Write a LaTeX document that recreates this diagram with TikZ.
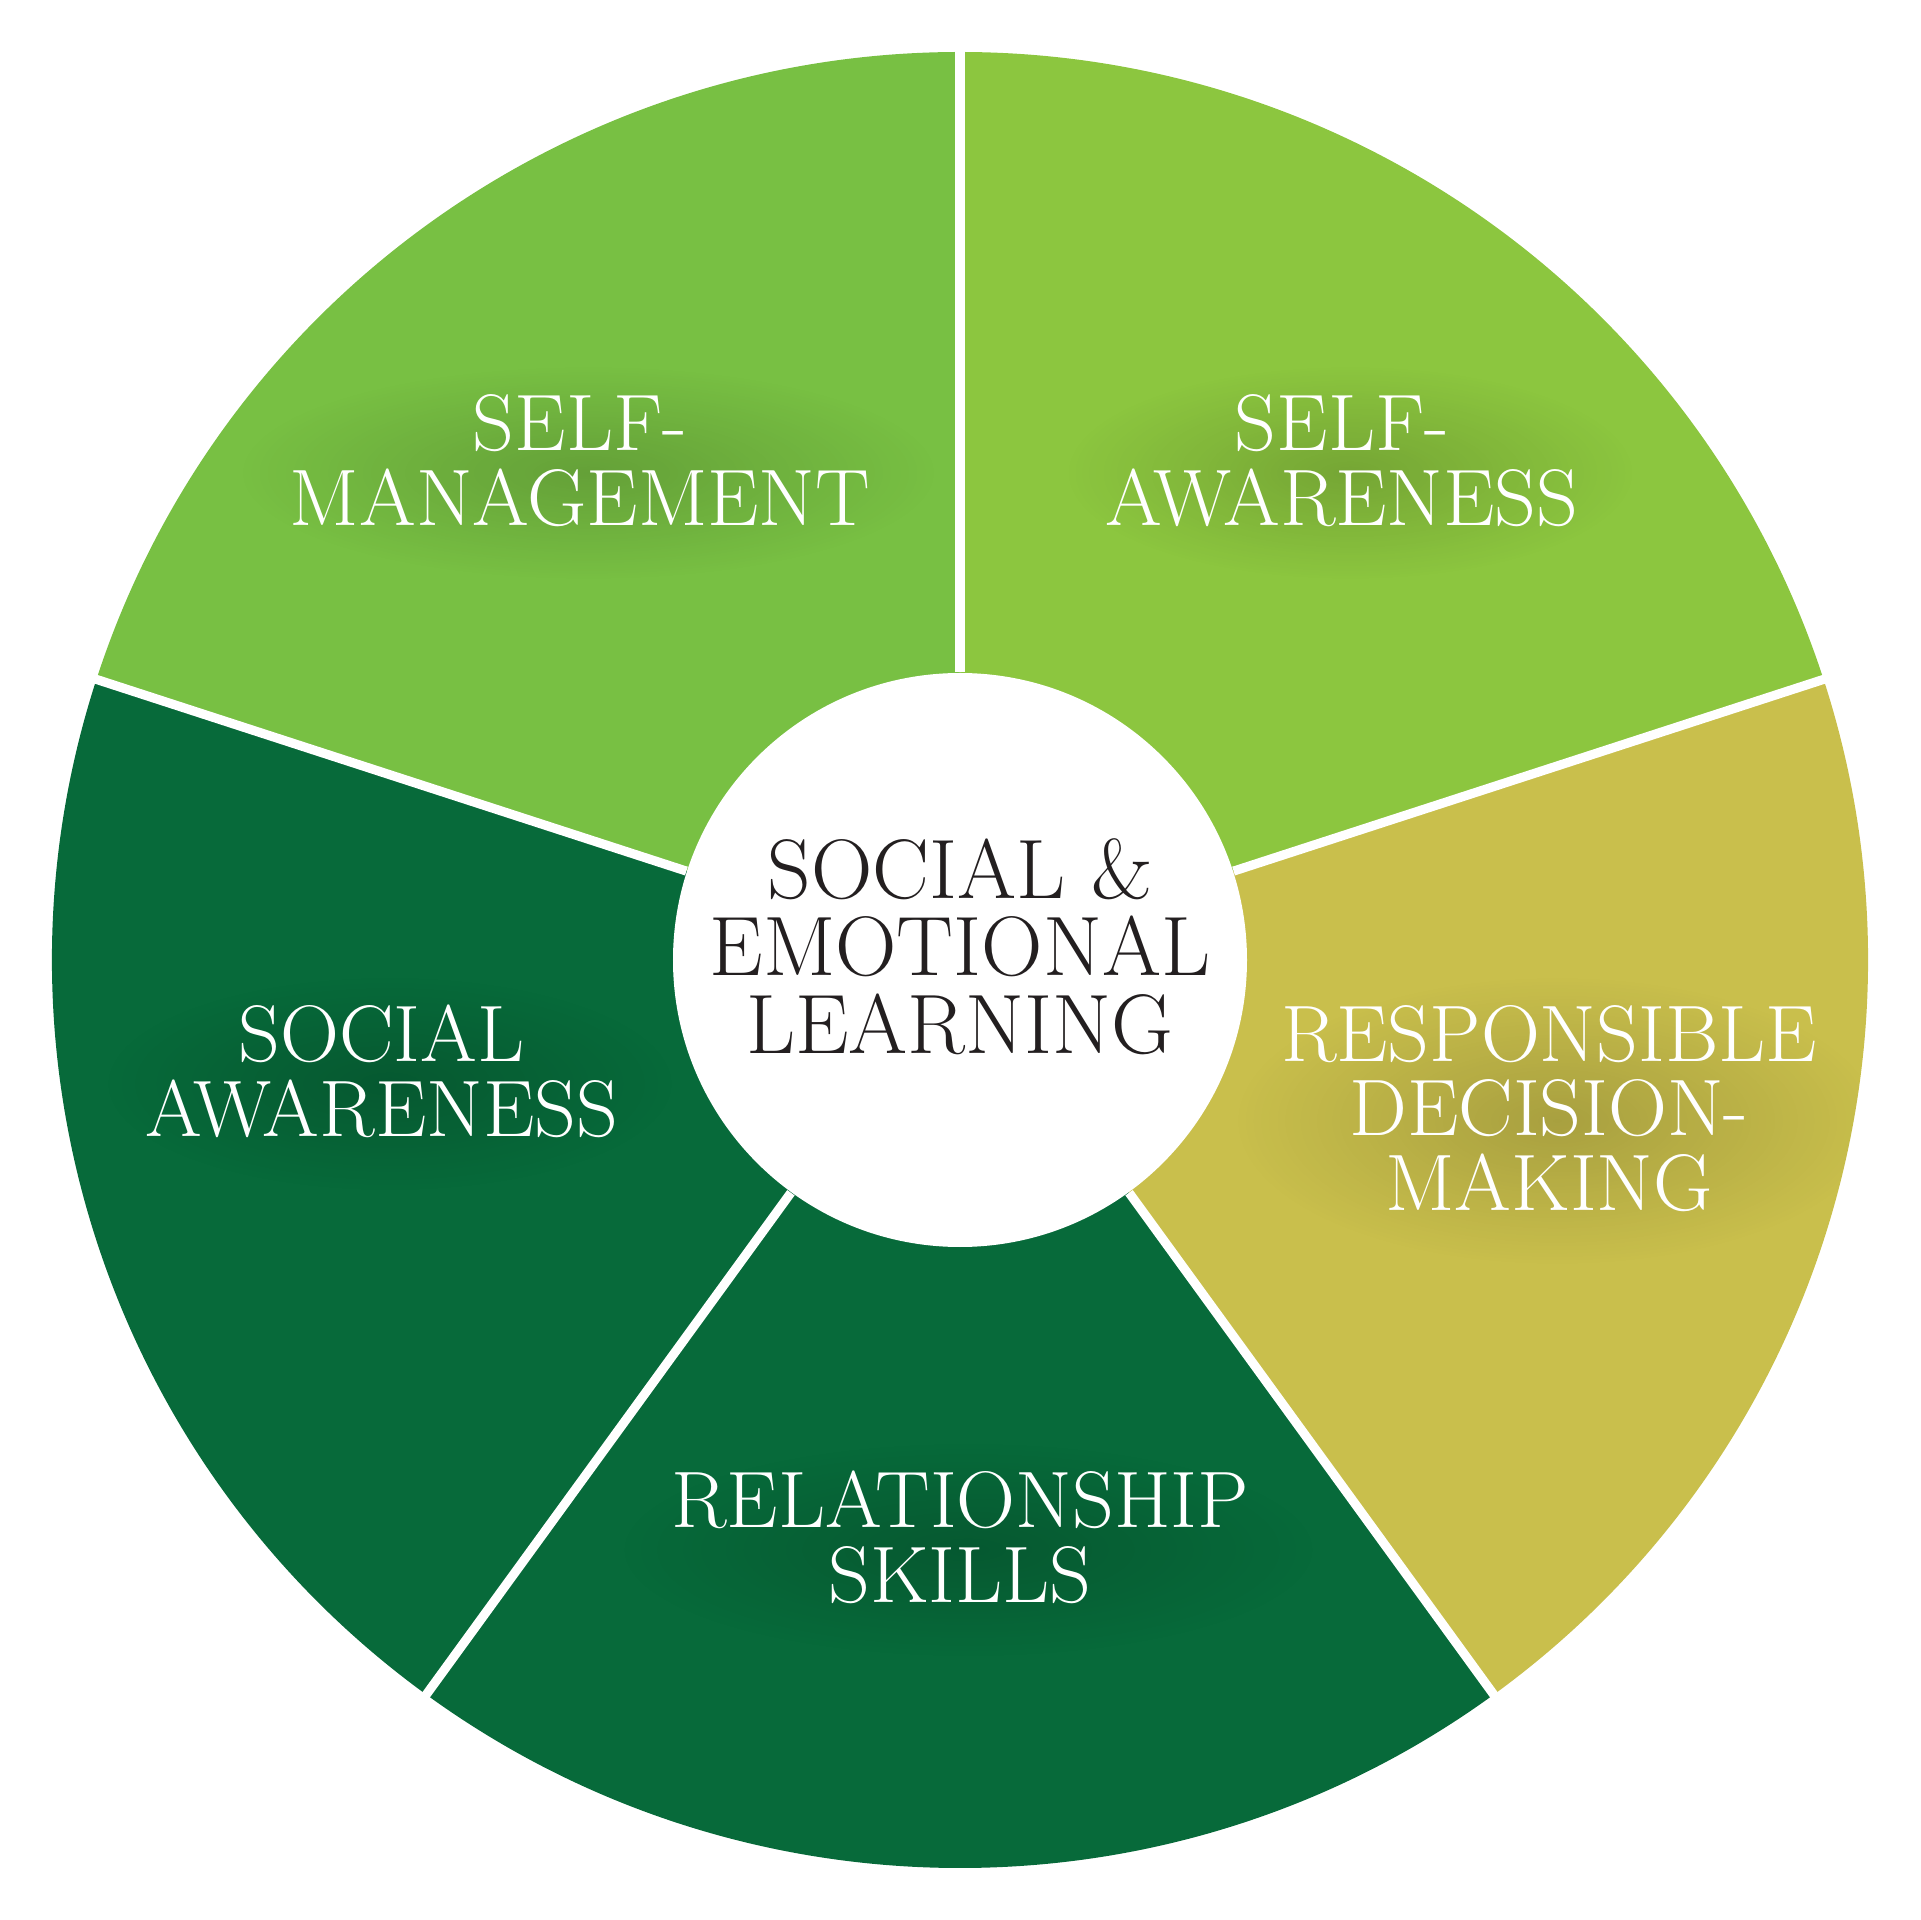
\documentclass[tikz,border=0pt]{standalone}
\usepackage{tikz}
\usetikzlibrary{positioning, calc, fadings}
\definecolor{selgreen}{HTML}{78C043}
\definecolor{selleaf}{HTML}{8CC63F}
\definecolor{selolive}{HTML}{C9BF4C}
\definecolor{selforest}{HTML}{076A3A}
\definecolor{selink}{HTML}{231F20}
\newcommand{\wheelR}{9.08}
\tikzfading[name=labelhaze, inner color=transparent!0, outer color=transparent!100]
\pgfdeclarelayer{front}
\pgfsetlayers{main,front}
% white label with a soft haze under it
\newcommand{\arealabel}[3]{%
  \begin{pgfonlayer}{front}
    \node[areatext] (#1) at (#2) {#3};
  \end{pgfonlayer}
  \begin{scope}
    \clip (0,0) circle [radius=\wheelR];
    \path let \p1 = ($(#1.north east)-(#1.south west)$) in
      [areahaze] ($(#1.center)+(0.08,-0.12)$) ellipse [x radius=0.6*\x1, y radius=0.5*\y1+0.4cm];
  \end{scope}
}

\begin{document}
\begin{tikzpicture}[
	areatext/.style = {text=white, align=center, inner sep=0pt, font=\fontsize{22.8}{21.3}\selectfont, xscale=1.02, transform shape},
	areahaze/.style = {fill=black, fill opacity=0.16, path fading=labelhaze},
	hubtext/.style = {text=selink, align=center, inner sep=0pt, font=\fontsize{24}{22.1}\selectfont, xscale=1.01, transform shape},
	hub/.style = {circle, fill=white, minimum size=5.74cm, inner sep=0pt},
	wheelgap/.style = {draw=white, line width=2.6pt}
]
	\useasboundingbox (-9.6,-9.6) rectangle (9.6,9.6);

	% the five areas
	\fill[selleaf] (0,0) -- (18:\wheelR) arc[start angle=18, end angle=90, radius=\wheelR] -- cycle;
	\fill[selgreen] (0,0) -- (90:\wheelR) arc[start angle=90, end angle=162, radius=\wheelR] -- cycle;
	\fill[selforest] (0,0) -- (162:\wheelR) arc[start angle=162, end angle=234, radius=\wheelR] -- cycle;
	\fill[selforest] (0,0) -- (234:\wheelR) arc[start angle=234, end angle=306, radius=\wheelR] -- cycle;
	\fill[selolive] (0,0) -- (306:\wheelR) arc[start angle=306, end angle=378, radius=\wheelR] -- cycle;

	\arealabel{selfaware}{3.82,4.995}{SELF-\\AWARENESS}
	\arealabel{selfmanage}{-3.80,4.995}{SELF-\\MANAGEMENT}
	\arealabel{socialaware}{-5.785,-1.115}{SOCIAL\\AWARENESS}
	\arealabel{relation}{0,-5.775}{RELATIONSHIP\\SKILLS}
	\arealabel{decision}{5.89,-1.485}{RESPONSIBLE\\DECISION-\\MAKING}

	\node[hub] (hub) at (0,0) {};
	\foreach \a [count=\i] in {90,18,-54,-126,162}
		\coordinate (rim\i) at (\a:9.2);
	\foreach \i in {1,...,5}
		\draw[wheelgap] (hub) -- (rim\i);

	\node[hubtext] (sel) at (0,0.135) {SOCIAL \&\\EMOTIONAL\\LEARNING};
\end{tikzpicture}
\end{document}
